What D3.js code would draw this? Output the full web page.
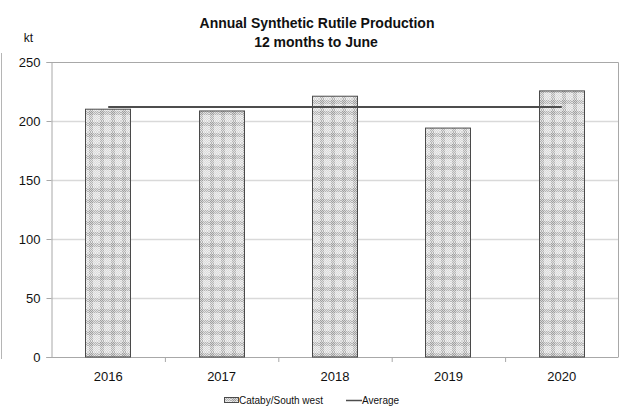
<!DOCTYPE html>
<html>
<head>
<meta charset="utf-8">
<script src="https://cdn.jsdelivr.net/npm/d3@7"></script>
<style>
  html, body { margin: 0; padding: 0; background: #fff; }
  svg { display: block; font-family: "Liberation Sans", Arial, sans-serif; }
</style>
</head>
<body>
<svg id="chart" width="621" height="407"></svg>
<script>
// Annual synthetic rutile production, 12 months to June (kt)
const years = ["2016", "2017", "2018", "2019", "2020"];
const production = [210, 208.5, 221, 194, 225.5];
const yTicks = [0, 50, 100, 150, 200, 250];
const seriesNames = ["Cataby/South west", "Average"];

const average = d3.mean(production);

const W = 621, H = 407;
const margin = { left: 51.5, right: 2.5, top: 62, bottom: 50 };
const svg = d3.select("#chart");

const xStep = d3.scaleBand().domain(years).range([margin.left, W - margin.right]);
const y = d3.scaleLinear().domain([0, 250]).range([H - margin.bottom, margin.top]);

// Light plaid fill used for the production bars
const defs = svg.append("defs");
const P = 11;
const pat = defs.append("pattern")
  .attr("id", "check")
  .attr("patternUnits", "userSpaceOnUse")
  .attr("width", P).attr("height", P);
pat.append("rect").attr("width", P).attr("height", P).attr("fill", "#efefef");
for (let i = 0; i < P; i++) {
  for (let j = 0; j < P; j++) {
    const bandI = i >= 1 && i <= 4, bandJ = j >= 1 && j <= 4;
    let c = null;
    if (bandI && bandJ) c = (i + j) % 2 === 0 ? "#9d9d9d" : "#d6d6d6";
    else if (bandI || bandJ) c = (i + j) % 2 === 0 ? "#b3b3b3" : "#e3e3e3";
    else if ((i + j) % 2 === 0) c = "#d9d9d9";
    if (c) pat.append("rect").attr("x", i).attr("y", j).attr("width", 1).attr("height", 1).attr("fill", c);
  }
}

// Partial frame at the far left edge
svg.append("line")
  .attr("x1", 1.5).attr("x2", 1.5).attr("y1", 53).attr("y2", 359)
  .attr("stroke", "#b5b5b5").attr("stroke-width", 1);

// Title
svg.append("text").attr("x", 317).attr("y", 28).attr("text-anchor", "middle")
  .attr("font-size", 14).attr("font-weight", "bold").attr("fill", "#111")
  .text("Annual Synthetic Rutile Production");
svg.append("text").attr("x", 316).attr("y", 47).attr("text-anchor", "middle")
  .attr("font-size", 14).attr("font-weight", "bold").attr("fill", "#111")
  .text("12 months to June");

// Unit label
svg.append("text").attr("x", 28.5).attr("y", 42).attr("text-anchor", "middle")
  .attr("font-size", 12).attr("fill", "#111").text("kt");

// Gridlines
svg.append("g").selectAll("line")
  .data(yTicks.filter(d => d > 0 && d < 250))
  .join("line")
  .attr("x1", margin.left).attr("x2", W - margin.right)
  .attr("y1", d => Math.round(y(d)) + 0.5).attr("y2", d => Math.round(y(d)) + 0.5)
  .attr("stroke", "#d9d9d9").attr("stroke-width", 1.5);

// Plot frame (top, right)
svg.append("path")
  .attr("d", `M${margin.left},${y(250) + 0.5}H${W - margin.right}V${y(0)}`)
  .attr("fill", "none").attr("stroke", "#a8a8a8").attr("stroke-width", 1);

// Y axis
const yAxis = svg.append("g")
  .attr("transform", `translate(${margin.left},0)`)
  .call(d3.axisLeft(y).tickValues(yTicks).tickSize(5).tickPadding(6));
yAxis.select(".domain").attr("stroke", "#a8a8a8");
yAxis.selectAll(".tick line").attr("stroke", "#a8a8a8");
yAxis.selectAll(".tick text").attr("font-size", 13).attr("fill", "#111")
  .attr("font-family", "Liberation Sans, Arial, sans-serif");

// X axis with ticks between categories
const xAxisG = svg.append("g").attr("transform", `translate(0,${y(0)})`);
xAxisG.append("line")
  .attr("x1", margin.left - 5).attr("x2", W - margin.right)
  .attr("y1", 0.5).attr("y2", 0.5).attr("stroke", "#a8a8a8");
xAxisG.selectAll("line.sep")
  .data(years.slice(1))
  .join("line").attr("class", "sep")
  .attr("x1", d => xStep(d) + 0.5).attr("x2", d => xStep(d) + 0.5)
  .attr("y1", 0).attr("y2", 5).attr("stroke", "#a8a8a8");
xAxisG.selectAll("text")
  .data(years)
  .join("text")
  .attr("x", d => xStep(d) + xStep.bandwidth() / 2)
  .attr("y", 24)
  .attr("text-anchor", "middle").attr("font-size", 13).attr("fill", "#111")
  .text(d => d);

// Bars
svg.append("g").selectAll("rect")
  .data(years.map((yr, i) => ({ yr, v: production[i] })))
  .join("rect")
  .attr("x", d => Math.round(xStep(d.yr) + xStep.bandwidth() / 2 - 23) + 0.5)
  .attr("width", 45)
  .attr("y", d => y(d.v))
  .attr("height", d => y(0) - y(d.v))
  .attr("fill", "url(#check)")
  .attr("stroke", "#4a4a4a").attr("stroke-width", 1);

// Average line across the category centres
const line = d3.line()
  .x(d => xStep(d) + xStep.bandwidth() / 2)
  .y(() => y(average));
svg.append("path")
  .datum(years)
  .attr("d", line)
  .attr("fill", "none").attr("stroke", "#4d4d4d").attr("stroke-width", 2);

// Legend
const lg = svg.append("g").attr("font-size", 10).attr("fill", "#111");
lg.append("rect").attr("x", 224.5).attr("y", 397.5).attr("width", 14).attr("height", 5)
  .attr("fill", "url(#check)").attr("stroke", "#4a4a4a").attr("stroke-width", 1);
lg.append("text").attr("x", 239).attr("y", 404).text(seriesNames[0]);
lg.append("line").attr("x1", 346).attr("x2", 362).attr("y1", 400.5).attr("y2", 400.5)
  .attr("stroke", "#4d4d4d").attr("stroke-width", 1.5);
lg.append("text").attr("x", 362).attr("y", 404).text(seriesNames[1]);
</script>
</body>
</html>
